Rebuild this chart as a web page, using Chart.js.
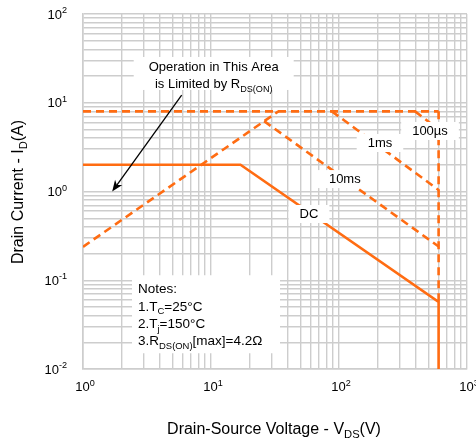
<!DOCTYPE html>
<html><head><meta charset="utf-8">
<script src="https://cdn.jsdelivr.net/npm/chart.js@4/dist/chart.umd.min.js"></script>
<style>html,body{margin:0;padding:0;background:#fff}#wrap{width:476px;height:441px;position:relative}</style>
</head><body><div id="wrap"><canvas id="c" width="476" height="441"></canvas></div>
<script>
// ---- data (V in volts, I in amps) ----
const xTickVals = [1, 10, 100, 1000];
const yTickVals = [0.01, 0.1, 1, 10, 100];
const xExp = ['0', '1', '2', '3'];
const yExp = ['-2', '-1', '0', '1', '2'];
const dcV = [1, 17, 600, 600];
const dcI = [2, 2, 0.057, 0.01];
const rdsV = [1, 33.6];
const rdsI = [0.238, 8];
const topV = [1, 600];
const topI = [8, 8];
const ms10V = [26, 600];
const ms10I = [6.2, 0.24];
const ms1V = [88, 600];
const ms1I = [8, 1.04];
const us100V = [393, 600];
const us100I = [8, 5.0];
const edgeV = [600, 600];
const edgeI = [8, 0.057];
const curveLabels = ['100µs', '1ms', '10ms', 'DC'];
const curveLabelV = [514, 209, 111, 58.3];
const curveLabelI = [4.81, 3.52, 1.38, 0.558];

const ORANGE = '#ff6c12';
const GRID = '#cdcdcd';
const FONT = '"Liberation Sans", Arial, sans-serif';

function pts(xs, ys) { return xs.map((x, i) => ({ x: x, y: ys[i] })); }
function ds(xs, ys, dashed) {
  return { data: pts(xs, ys), showLine: true, borderColor: ORANGE, borderWidth: 2.6,
    borderDash: dashed ? [8, 5] : [], pointRadius: 0, fill: false, tension: 0, borderCapStyle: 'butt' };
}
function gridVals(min, max) {
  const out = [];
  for (let d = min; d < max * 0.999; d *= 10) for (let k = 1; k < 10; k++) out.push({ value: d * k });
  out.push({ value: max });
  return out;
}

function rich(ctx, parts, x, y, align, size) {
  const small = size * 0.7;
  let w = 0;
  const ws = parts.map(p => { ctx.font = (p[1] ? small : size) + 'px ' + FONT; const m = ctx.measureText(p[0]).width; w += m; return m; });
  let cx = align === 'right' ? x - w : align === 'center' ? x - w / 2 : x;
  ctx.textAlign = 'left'; ctx.textBaseline = 'alphabetic';
  parts.forEach((p, i) => {
    ctx.font = (p[1] ? small : size) + 'px ' + FONT;
    const dy = p[1] === 1 ? size * 0.28 : p[1] === 2 ? -size * 0.42 : 0;
    ctx.fillText(p[0], cx, y + dy);
    cx += ws[i];
  });
  return w;
}

const deco = {
  id: 'deco',
  afterDatasetsDraw(chart) {
    const ctx = chart.ctx, xs = chart.scales.x, ys = chart.scales.y;
    ctx.save();
    ctx.fillStyle = '#000';
    // tick labels
    xTickVals.forEach((v, i) => {
      const px = xs.getPixelForValue(v);
      rich(ctx, [['10', 0], [xExp[i], 2]], px + 2, ys.bottom + 22, 'center', 13);
    });
    yTickVals.forEach((v, i) => {
      const py = ys.getPixelForValue(v);
      rich(ctx, [['10', 0], [yExp[i], 2]], xs.left - 16, py + 4.5, 'right', 13);
    });
    // axis titles
    rich(ctx, [['Drain-Source Voltage - V', 0], ['DS', 1], ['(V)', 0]], 274, 434, 'center', 16);
    ctx.save();
    ctx.translate(23, 192); ctx.rotate(-Math.PI / 2);
    rich(ctx, [['Drain Current - I', 0], ['D', 1], ['(A)', 0]], 0, 0, 'center', 16);
    ctx.restore();

    // curve labels with white boxes
    curveLabels.forEach((t, i) => {
      const px = xs.getPixelForValue(curveLabelV[i]), py = ys.getPixelForValue(curveLabelI[i]);
      ctx.font = '13px ' + FONT;
      const w = ctx.measureText(t).width;
      ctx.fillStyle = '#fff';
      ctx.fillRect(px - w / 2 - 11, py - 9, w + 22, 18);
      ctx.fillStyle = '#000';
      ctx.textAlign = 'center'; ctx.textBaseline = 'middle';
      ctx.fillText(t, px, py);
    });

    // operation label
    const ox = xs.getPixelForValue(10.5), oy = ys.getPixelForValue(21.1);
    ctx.fillStyle = '#fff';
    ctx.fillRect(ox - 80, oy - 17, 160, 33);
    ctx.fillStyle = '#000';
    rich(ctx, [['Operation in This Area', 0]], ox, oy - 3, 'center', 13);
    rich(ctx, [['is Limited by R', 0], ['DS(ON)', 1]], ox, oy + 14, 'center', 13);

    // arrow
    const ax0 = xs.getPixelForValue(5.9), ay0 = ys.getPixelForValue(12.2);
    const ax1 = xs.getPixelForValue(1.69), ay1 = ys.getPixelForValue(1.0);
    const ang = Math.atan2(ay1 - ay0, ax1 - ax0);
    ctx.strokeStyle = '#000'; ctx.lineWidth = 1.3;
    ctx.beginPath(); ctx.moveTo(ax0, ay0);
    ctx.lineTo(ax1 - 8 * Math.cos(ang), ay1 - 8 * Math.sin(ang)); ctx.stroke();
    ctx.beginPath();
    ctx.moveTo(ax1, ay1);
    ctx.lineTo(ax1 - 12 * Math.cos(ang - 0.38), ay1 - 12 * Math.sin(ang - 0.38));
    ctx.lineTo(ax1 - 8 * Math.cos(ang), ay1 - 8 * Math.sin(ang));
    ctx.lineTo(ax1 - 12 * Math.cos(ang + 0.38), ay1 - 12 * Math.sin(ang + 0.38));
    ctx.closePath(); ctx.fillStyle = '#000'; ctx.fill();

    // notes box
    const nx = xs.getPixelForValue(2.69), ny = ys.getPixelForValue(0.1);
    const notes = [
      [['Notes:', 0]],
      [['1.T', 0], ['C', 1], ['=25°C', 0]],
      [['2.T', 0], ['j', 1], ['=150°C', 0]],
      [['3.R', 0], ['DS(ON)', 1], ['[max]=4.2Ω', 0]]
    ];
    ctx.fillStyle = '#fff';
    ctx.fillRect(nx - 6, ny - 5, 148, 78);
    ctx.fillStyle = '#000';
    notes.forEach((p, i) => rich(ctx, p, nx, ny + 13 + i * 17.3, 'left', 13.5));
    ctx.restore();
  }
};

new Chart(document.getElementById('c'), {
  type: 'scatter',
  data: { datasets: [
    ds(topV, topI, true), ds(rdsV, rdsI, true), ds(ms10V, ms10I, true),
    ds(ms1V, ms1I, true), ds(us100V, us100I, true), ds(edgeV, edgeI, true),
    ds(dcV, dcI, false)
  ] },
  options: {
    responsive: false, animation: false, events: [],
    layout: { padding: { left: 83, right: 9, top: 14, bottom: 72 } },
    plugins: { legend: { display: false }, tooltip: { enabled: false }, title: { display: false } },
    scales: {
      x: { type: 'logarithmic', min: 1, max: 1000,
        afterBuildTicks: s => { s.ticks = gridVals(1, 1000); },
        ticks: { display: false, autoSkip: false },
        grid: { color: GRID, lineWidth: 1.4, drawTicks: false },
        border: { display: true, color: GRID, width: 1.6 } },
      y: { type: 'logarithmic', min: 0.01, max: 100,
        afterBuildTicks: s => { s.ticks = gridVals(0.01, 100); },
        ticks: { display: false, autoSkip: false },
        grid: { color: GRID, lineWidth: 1.4, drawTicks: false },
        border: { display: true, color: GRID, width: 1.6 } }
    }
  },
  plugins: [deco]
});
</script></body></html>
